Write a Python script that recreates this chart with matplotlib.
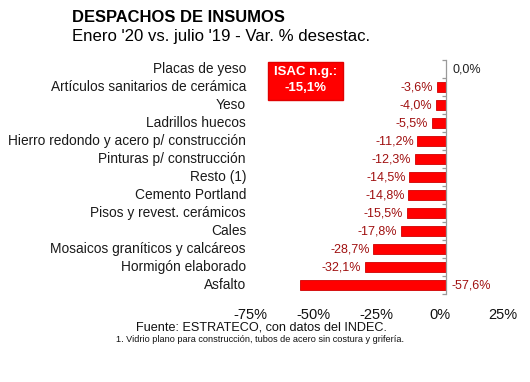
import matplotlib
matplotlib.use("Agg")
import matplotlib.pyplot as plt
import matplotlib.transforms as mtransforms
from matplotlib.patches import Rectangle
import numpy as np

plt.rcParams['font.family'] = ['Liberation Sans', 'DejaVu Sans']

categories = [
    "Placas de yeso",
    "Artículos sanitarios de cerámica",
    "Yeso",
    "Ladrillos huecos",
    "Hierro redondo y acero p/ construcción",
    "Pinturas p/ construcción",
    "Resto (1)",
    "Cemento Portland",
    "Pisos y revest. cerámicos",
    "Cales",
    "Mosaicos graníticos y calcáreos",
    "Hormigón elaborado",
    "Asfalto",
]
values = [0.0, -3.6, -4.0, -5.5, -11.2, -12.3, -14.5, -14.8, -15.5, -17.8, -28.7, -32.1, -57.6]
xticks = [-75, -50, -25, 0, 25]
xticklabels = ["-75%", "-50%", "-25%", "0%", "25%"]
title = "DESPACHOS DE INSUMOS"
subtitle = "Enero '20 vs. julio '19 - Var. % desestac."
isac_text = "ISAC n.g.:\n-15,1%"
source = "Fuente: ESTRATECO, con datos del INDEC."
footnote = "1. Vidrio plano para construcción, tubos de acero sin costura y grifería."

W, H = 530, 382
fig = plt.figure(figsize=(W / 100, H / 100), dpi=100)
ax = fig.add_axes([256 / W, 1 - 294 / H, (509 - 256) / W, (294 - 60) / H])

y = np.arange(len(categories))
ax.barh(y, values, height=0.6, color="#FF0000", edgecolor="#D00000", linewidth=0.6, zorder=2)
ax.set_xlim(-75, 25)
ax.set_ylim(len(categories) - 0.5, -0.5)

for s in ["top", "right", "bottom"]:
    ax.spines[s].set_visible(False)
ax.spines["left"].set_position(("data", 0))
ax.spines["left"].set_color("#9A9A9A")
ax.spines["left"].set_linewidth(0.9)
ax.spines["left"].set_zorder(3)

ax.set_yticks(y)
ax.set_yticklabels([])
ax.tick_params(axis="y", which="major", length=0)
ax.set_yticks(np.arange(len(categories) + 1) - 0.5, minor=True)
ax.tick_params(axis="y", which="minor", length=3, direction="out", color="#9A9A9A", width=0.9)

ax.set_xticks(xticks)
ax.set_xticklabels(xticklabels, fontsize=10.5, color="#111111")
ax.tick_params(axis="x", length=0, pad=10)
offset = mtransforms.ScaledTranslation(-6 / 100, 0, fig.dpi_scale_trans)
for lbl in ax.get_xticklabels():
    lbl.set_transform(lbl.get_transform() + offset)

# category labels
blend = mtransforms.blended_transform_factory(fig.transFigure, ax.transData)
for yi, cat in zip(y, categories):
    ax.text(246 / W, yi, cat, transform=blend, ha="right", va="center",
            fontsize=9.9, color="#1a1a1a")

# value labels
for yi, v in zip(y, values):
    s = f"{v:.1f}%".replace(".", ",")
    if v == 0:
        ax.annotate(s, (0, yi), xytext=(5, 0), textcoords="offset points",
                    ha="left", va="center", fontsize=9, color="#222222")
    elif v < -50:
        ax.annotate(s, (0, yi), xytext=(4, 0), textcoords="offset points",
                    ha="left", va="center", fontsize=9, color="#A01010")
    else:
        ax.annotate(s, (v, yi), xytext=(-2.5, 0), textcoords="offset points",
                    ha="right", va="center", fontsize=9, color="#A01010")

# titles
fig.text(72 / W, 1 - 18 / H, title, fontsize=11.9, fontweight="bold", ha="left", va="center", color="#000000")
fig.text(72 / W, 1 - 36 / H, subtitle, fontsize=12.1, ha="left", va="center", color="#000000")

# ISAC box
fig.patches.append(Rectangle((268 / W, 1 - 100 / H), 75 / W, 38 / H, transform=fig.transFigure,
                             facecolor="#FF0000", edgecolor="#E00000", zorder=5))
fig.text(305.5 / W, 1 - 80 / H, isac_text, fontsize=9.5, fontweight="bold", color="white",
         ha="center", va="center", linespacing=1.35, zorder=6)

# source and footnote
fig.text(262 / W, 1 - 327 / H, source, fontsize=9.1, ha="center", va="center", color="#111111")
fig.text(260 / W, 1 - 339 / H, footnote, fontsize=6.6, ha="center", va="center", color="#111111")

fig.savefig("out.png", dpi=100, facecolor="white")
